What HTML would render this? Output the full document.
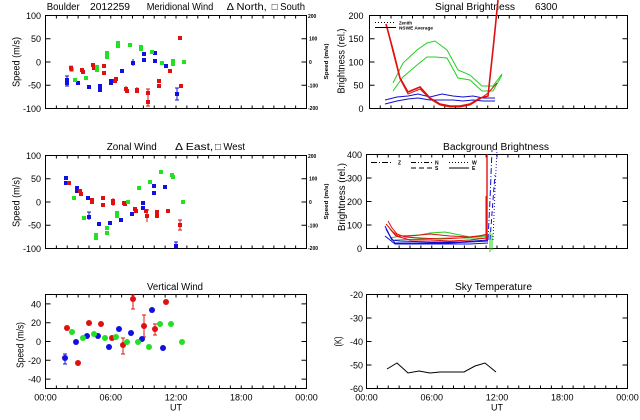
<!DOCTYPE html>
<html><head><meta charset="utf-8"><style>
html,body{margin:0;padding:0;background:#fff;width:640px;height:420px;overflow:hidden}
svg{display:block}
</style></head><body>
<svg width="640" height="420" viewBox="0 0 640 420" xmlns="http://www.w3.org/2000/svg" font-family="'Liberation Sans', 'DejaVu Sans', sans-serif">
<rect width="640" height="420" fill="#fff"/>

<!-- ================= TITLES ================= -->
<g font-size="10" fill="#000">
<text x="46.7" y="10" textLength="33" lengthAdjust="spacingAndGlyphs">Boulder</text>
<text x="90" y="10" textLength="40" lengthAdjust="spacingAndGlyphs">2012259</text>
<text x="146.7" y="10" textLength="66.6" lengthAdjust="spacingAndGlyphs">Meridional Wind</text>
<text x="226.7" y="10" textLength="40" lengthAdjust="spacingAndGlyphs">Δ North,</text>
<text x="271.7" y="10" textLength="33.3" lengthAdjust="spacingAndGlyphs">□ South</text>

<text x="435" y="10" textLength="80" lengthAdjust="spacingAndGlyphs">Signal Brightness</text>
<text x="535" y="10" textLength="22.3" lengthAdjust="spacingAndGlyphs">6300</text>

<text x="106.7" y="150" textLength="50" lengthAdjust="spacingAndGlyphs">Zonal Wind</text>
<text x="175" y="150" textLength="38.3" lengthAdjust="spacingAndGlyphs">Δ East,</text>
<text x="215" y="150" textLength="30" lengthAdjust="spacingAndGlyphs">□ West</text>

<text x="443" y="150" textLength="106" lengthAdjust="spacingAndGlyphs">Background Brightness</text>
<text x="147" y="290" textLength="56" lengthAdjust="spacingAndGlyphs">Vertical Wind</text>
<text x="455" y="290" textLength="77" lengthAdjust="spacingAndGlyphs">Sky Temperature</text>
</g>

<!-- ================= AXES BOXES ================= -->
<g fill="none" stroke="#000" stroke-width="1">
<rect x="45.5" y="15.5" width="261" height="93"/>
<rect x="369.5" y="15.5" width="258" height="93"/>
<rect x="45.5" y="155.5" width="261" height="93"/>
<rect x="366.5" y="154.5" width="261" height="94"/>
<rect x="45.5" y="294.5" width="261" height="94"/>
<rect x="366.5" y="294.5" width="261" height="94"/>
</g>

<!-- X ticks (hourly) via dashes -->
<g stroke="#000" stroke-width="3" fill="none">
<line x1="45" y1="17" x2="307.5" y2="17" stroke-dasharray="1 9.875"/>
<line x1="45" y1="107" x2="307.5" y2="107" stroke-dasharray="1 9.875"/>
<line x1="45" y1="157" x2="307.5" y2="157" stroke-dasharray="1 9.875"/>
<line x1="45" y1="247" x2="307.5" y2="247" stroke-dasharray="1 9.875"/>
<line x1="45" y1="296" x2="307.5" y2="296" stroke-dasharray="1 9.875"/>
<line x1="45" y1="387" x2="307.5" y2="387" stroke-dasharray="1 9.875"/>

<line x1="369" y1="17" x2="628.5" y2="17" stroke-dasharray="1 9.75"/>
<line x1="369" y1="107" x2="628.5" y2="107" stroke-dasharray="1 9.75"/>
<line x1="366" y1="156" x2="628.5" y2="156" stroke-dasharray="1 9.875"/>
<line x1="366" y1="247" x2="628.5" y2="247" stroke-dasharray="1 9.875"/>
<line x1="366" y1="296" x2="628.5" y2="296" stroke-dasharray="1 9.875"/>
<line x1="366" y1="387" x2="628.5" y2="387" stroke-dasharray="1 9.875"/>
</g>

<!-- Y ticks -->
<g stroke="#000" stroke-width="1" fill="none">
<path d="M45.5 38.75h5M45.5 62h5M45.5 85.25h5M306.5 38.75h-5M306.5 62h-5M306.5 85.25h-5"/>
<path d="M45.5 178.75h5M45.5 202h5M45.5 225.25h5M306.5 178.75h-5M306.5 202h-5M306.5 225.25h-5"/>
<path d="M45.5 303.9h5M45.5 322.7h5M45.5 341.5h5M45.5 360.3h5M45.5 379.1h5M306.5 303.9h-5M306.5 322.7h-5M306.5 341.5h-5M306.5 360.3h-5M306.5 379.1h-5"/>
<path d="M369.5 38.75h5M369.5 62h5M369.5 85.25h5M627.5 38.75h-5M627.5 62h-5M627.5 85.25h-5"/>
<path d="M366.5 178h5M366.5 201.5h5M366.5 225h5M627.5 178h-5M627.5 201.5h-5M627.5 225h-5"/>
<path d="M366.5 318h5M366.5 341.5h5M366.5 365h5M627.5 318h-5M627.5 341.5h-5M627.5 365h-5"/>
</g>

<!-- ================= Y LABELS ================= -->
<g font-size="9" fill="#000" text-anchor="end">
<text x="41" y="19">100</text><text x="41" y="42.2">50</text><text x="41" y="65.5">0</text><text x="41" y="88.7">-50</text><text x="41" y="112">-100</text>
<text x="41" y="159">100</text><text x="41" y="182.2">50</text><text x="41" y="205.5">0</text><text x="41" y="228.7">-50</text><text x="41" y="252">-100</text>
<text x="41" y="307.4">40</text><text x="41" y="326.2">20</text><text x="41" y="345">0</text><text x="41" y="363.8">-20</text><text x="41" y="382.6">-40</text>

<text x="363.5" y="19">200</text><text x="363.5" y="42.2">150</text><text x="363.5" y="65.5">100</text><text x="363.5" y="88.7">50</text><text x="363.5" y="112">0</text>
<text x="362" y="158">400</text><text x="362" y="181.5">300</text><text x="362" y="205">200</text><text x="362" y="228.5">100</text><text x="362" y="252">0</text>
<text x="363" y="298">-20</text><text x="363" y="321.5">-30</text><text x="363" y="345">-40</text><text x="363" y="368.5">-50</text><text x="363" y="392">-60</text>
</g>

<!-- tiny right-axis labels on wind panels -->
<g font-size="5" fill="#000" font-weight="bold">
<text x="308" y="18">200</text><text x="309" y="40.5">100</text><text x="309" y="64">0</text><text x="308" y="87.5">-100</text><text x="308" y="110">-200</text>
<text x="308" y="158">200</text><text x="309" y="180.5">100</text><text x="309" y="204">0</text><text x="308" y="227.5">-100</text><text x="308" y="250">-200</text>
<text transform="translate(328,61.5) rotate(-90)" text-anchor="middle" textLength="36" lengthAdjust="spacingAndGlyphs">Speed (m/s)</text>
<text transform="translate(328,201.5) rotate(-90)" text-anchor="middle" textLength="36" lengthAdjust="spacingAndGlyphs">Speed (m/s)</text>
</g>

<!-- Y axis titles -->
<g font-size="10" fill="#000" text-anchor="middle">
<text transform="translate(19.5,62) rotate(-90)" textLength="50" lengthAdjust="spacingAndGlyphs">Speed (m/s)</text>
<text transform="translate(19.5,202) rotate(-90)" textLength="50" lengthAdjust="spacingAndGlyphs">Speed (m/s)</text>
<text transform="translate(23.5,345) rotate(-90)" textLength="46" lengthAdjust="spacingAndGlyphs">Speed (m/s)</text>
<text transform="translate(344.5,61) rotate(-90)" textLength="65" lengthAdjust="spacingAndGlyphs">Brightness (rel.)</text>
<text transform="translate(345,197) rotate(-90)" textLength="68" lengthAdjust="spacingAndGlyphs">Brightness (rel.)</text>
<text transform="translate(341.5,341.5) rotate(-90)" textLength="10" lengthAdjust="spacingAndGlyphs">(K)</text>
</g>

<!-- X labels -->
<g font-size="9" fill="#000" text-anchor="middle">
<text x="45.5" y="400.5">00:00</text><text x="110.75" y="400.5">06:00</text><text x="176" y="400.5">12:00</text><text x="241.25" y="400.5">18:00</text><text x="306.5" y="400.5">00:00</text>
<text x="176" y="410.5">UT</text>
<text x="366.5" y="400.5">00:00</text><text x="431.75" y="400.5">06:00</text><text x="497" y="400.5">12:00</text><text x="562.25" y="400.5">18:00</text><text x="627.5" y="400.5">00:00</text>
<text x="497" y="410.5">UT</text>
</g>

<!-- ================= MERIDIONAL WIND ================= -->
<g stroke-width="1" fill="none">
<path stroke="#e01010" d="M148 89v8M146 89h4M148 97v9M146 106h4M137 87v6M126 86v6"/>
<path stroke="#1010e0" d="M67 76v10M65 76h4M65 86h4M177 88v12M175 88h4M175 100h4M133 59v7"/>
</g>
<g fill="#e01010">
<rect x="69" y="65.7" width="4" height="4"/><rect x="69.5" y="67.5" width="4" height="4"/>
<rect x="80" y="68" width="4" height="4"/><rect x="81" y="70" width="4" height="4"/>
<rect x="91" y="63" width="4" height="4"/><rect x="92" y="66" width="4" height="4"/>
<rect x="102" y="64" width="4" height="4"/><rect x="102" y="71" width="4" height="4"/>
<rect x="113" y="79" width="4" height="4"/><rect x="114" y="77" width="4" height="4"/>
<rect x="124" y="87" width="4" height="4"/><rect x="125" y="89" width="4" height="4"/>
<rect x="135" y="88" width="4" height="4"/><rect x="135" y="89" width="4" height="4"/>
<rect x="146" y="91" width="4" height="4"/><rect x="146" y="100" width="4" height="4"/>
<rect x="157" y="79" width="4" height="4"/><rect x="157" y="84" width="4" height="4"/>
<rect x="168" y="69" width="4" height="4"/>
<rect x="178" y="36" width="4" height="4"/><rect x="179" y="84" width="4" height="4"/>
</g>
<g fill="#1010e0">
<rect x="65" y="78" width="4" height="4"/><rect x="65" y="81" width="4" height="4"/>
<rect x="76" y="81" width="4" height="4"/>
<rect x="87" y="85" width="4" height="4"/>
<rect x="98" y="84" width="4" height="4"/><rect x="98" y="88" width="4" height="4"/>
<rect x="109" y="79" width="4" height="4"/><rect x="109" y="81" width="4" height="4"/>
<rect x="120" y="69" width="4" height="4"/>
<rect x="131" y="61" width="4" height="4"/>
<rect x="142" y="52" width="4" height="4"/><rect x="142" y="58" width="4" height="4"/>
<rect x="153" y="51" width="4" height="4"/><rect x="153" y="59" width="4" height="4"/>
<rect x="164" y="64" width="4" height="4"/>
<rect x="175" y="92" width="4" height="4"/>
</g>
<g fill="#22e022">
<rect x="73" y="78" width="4" height="4"/>
<rect x="84" y="76" width="4" height="4"/>
<rect x="95" y="65" width="4" height="4"/><rect x="95" y="68" width="4" height="4"/>
<rect x="105" y="51" width="4" height="4"/><rect x="105" y="55" width="4" height="4"/>
<rect x="116" y="41" width="4" height="4"/><rect x="116" y="44" width="4" height="4"/>
<rect x="128" y="43" width="4" height="4"/>
<rect x="139" y="45" width="4" height="4"/><rect x="139" y="47" width="4" height="4"/>
<rect x="150" y="50" width="4" height="4"/>
<rect x="160" y="61" width="4" height="4"/>
<rect x="171" y="59" width="4" height="4"/><rect x="171" y="62" width="4" height="4"/>
<rect x="182" y="60" width="4" height="4"/>
</g>

<!-- ================= ZONAL WIND ================= -->
<g stroke-width="1" fill="none">
<path stroke="#1010e0" d="M89 212v8M87 212h4M176 242v7M174 242h4"/>
<path stroke="#e01010" d="M180 220v10M178 220h4M178 230h4M147 210v12M145 210h4M113 198v8"/>
</g>
<g fill="#1010e0">
<rect x="64" y="176" width="4" height="4"/><rect x="64" y="181" width="4" height="4"/>
<rect x="75" y="186" width="4" height="4"/><rect x="75" y="189" width="4" height="4"/>
<rect x="86" y="196" width="4" height="4"/>
<rect x="87" y="215" width="4" height="4"/>
<rect x="97" y="222" width="4" height="4"/>
<rect x="108" y="221" width="4" height="4"/>
<rect x="119" y="218" width="4" height="4"/>
<rect x="130" y="212" width="4" height="4"/>
<rect x="141" y="201" width="4" height="4"/><rect x="141" y="206" width="4" height="4"/>
<rect x="152" y="184" width="4" height="4"/><rect x="152" y="191" width="4" height="4"/>
<rect x="163" y="185" width="4" height="4"/>
<rect x="174" y="244" width="4" height="4"/>
</g>
<g fill="#e01010">
<rect x="67" y="181" width="4" height="4"/>
<rect x="78" y="189" width="4" height="4"/><rect x="79" y="192" width="4" height="4"/>
<rect x="90" y="198" width="4" height="4"/><rect x="90" y="200" width="4" height="4"/>
<rect x="101" y="196" width="4" height="4"/><rect x="101" y="203" width="4" height="4"/>
<rect x="111" y="199" width="4" height="4"/><rect x="111" y="201" width="4" height="4"/>
<rect x="122" y="201" width="4" height="4"/><rect x="123" y="202" width="4" height="4"/>
<rect x="133" y="207" width="4" height="4"/><rect x="134" y="209" width="4" height="4"/>
<rect x="144" y="209" width="4" height="4"/><rect x="145" y="214" width="4" height="4"/>
<rect x="155" y="210" width="4" height="4"/><rect x="155" y="214" width="4" height="4"/>
<rect x="166" y="209" width="4" height="4"/>
<rect x="178" y="223" width="4" height="4"/>
</g>
<g fill="#22e022">
<rect x="72" y="196" width="4" height="4"/>
<rect x="82" y="216" width="4" height="4"/>
<rect x="94" y="233" width="4" height="4"/><rect x="94" y="236" width="4" height="4"/>
<rect x="105" y="226" width="4" height="4"/><rect x="105" y="231" width="4" height="4"/>
<rect x="115" y="211" width="4" height="4"/><rect x="115" y="214" width="4" height="4"/>
<rect x="126" y="200" width="4" height="4"/>
<rect x="137" y="186" width="4" height="4"/>
<rect x="148" y="180" width="4" height="4"/>
<rect x="159" y="170" width="4" height="4"/>
<rect x="170" y="173" width="4" height="4"/><rect x="171" y="175" width="4" height="4"/>
<rect x="181" y="200" width="4" height="4"/>
</g>

<!-- ================= VERTICAL WIND ================= -->
<g stroke-width="1" fill="none">
<path stroke="#1010e0" d="M65 354v10M63 354h4M63 364h4"/>
<path stroke="#e01010" d="M123 338v16M121 338h4M121 354h4M133 295v14M131 295h4M131 309h4M144 315v22M142 315h4M142 337h4M155 324v11M153 324h4M153 335h4"/>
</g>
<g fill="#1010e0">
<circle cx="65" cy="358" r="3"/><circle cx="76" cy="342" r="3"/><circle cx="87" cy="336" r="3"/>
<circle cx="98" cy="336" r="3"/><circle cx="109" cy="347" r="3"/><circle cx="119" cy="329" r="3"/>
<circle cx="131" cy="333" r="3"/><circle cx="142" cy="339" r="3"/><circle cx="152" cy="310" r="3"/>
<circle cx="163" cy="348" r="3"/>
</g>
<g fill="#e01010">
<circle cx="67" cy="328" r="3"/><circle cx="78" cy="363" r="3"/><circle cx="89" cy="323" r="3"/>
<circle cx="101" cy="324" r="3"/><circle cx="112" cy="338" r="3"/><circle cx="123" cy="345" r="3"/>
<circle cx="133" cy="299" r="3"/><circle cx="144" cy="326" r="3"/><circle cx="155" cy="329" r="3"/>
<circle cx="166" cy="302" r="3"/>
</g>
<g fill="#22e022">
<circle cx="72" cy="332" r="3"/><circle cx="83" cy="338" r="3"/><circle cx="94" cy="334" r="3"/>
<circle cx="105" cy="338" r="3"/><circle cx="116" cy="337" r="3"/><circle cx="127" cy="342" r="3"/>
<circle cx="138" cy="342" r="3"/><circle cx="149" cy="347" r="3"/><circle cx="160" cy="324" r="3"/>
<circle cx="171" cy="324" r="3"/><circle cx="182" cy="342" r="3"/>
</g>

<!-- ================= SIGNAL BRIGHTNESS ================= -->
<g fill="none" stroke-width="1">
<polyline stroke="#1010d0" points="385,100 397,97 408,96 418,94 430,97 442,94 453,96 463,97 473,96 483,98 495,98"/>
<polyline stroke="#1010d0" points="385,104 397,101 408,99 418,98 430,100 442,100 453,100 463,101 473,100 483,101 495,101"/>
<polyline stroke="#22d022" points="393,83 403,63 417,50 427,43 435,41 447,50 458,70 470,75 482,86 493,86 502,74"/>
<polyline stroke="#22d022" points="393,91 403,77 417,65 427,57 435,57 447,58 458,78 470,80 482,91 493,91 502,75"/>
<polyline stroke="#e01010" points="387,27 393,52 400,79 408,94 420,89 430,99 440,105 450,107 460,107 470,105 480,99 488,93 497,83"/>
<polyline stroke="#e01010" stroke-width="1.6" points="386,24 393,50 400,78 408,92 420,87 430,98 440,104 450,106 460,106 470,104 480,98 488,96 494,40 497,10 498,0"/>
</g>
<!-- legend -->
<g stroke="#000" stroke-width="1">
<line x1="375" y1="22.5" x2="396" y2="22.5" stroke-dasharray="1 2"/>
<line x1="375" y1="27.5" x2="396" y2="27.5"/>
</g>
<g font-size="4.5" fill="#000" font-weight="bold">
<text x="399" y="24.5" textLength="13" lengthAdjust="spacingAndGlyphs">Zenith</text>
<text x="399" y="29.5" textLength="34" lengthAdjust="spacingAndGlyphs">NSWE Average</text>
</g>

<!-- ================= BACKGROUND BRIGHTNESS ================= -->
<g fill="none" stroke-width="1">
<polyline stroke="#22d022" points="390,238 400,236 420,235 430,233 445,232 455,234 470,237 488,236"/>
<polyline stroke="#22d022" points="395,240 420,239 450,238 488,238"/>
<path stroke="#22d022" d="M490 232v20M492 234v16"/>
<polyline stroke="#e01010" points="388,221 392,228 397,234 405,237 420,238 440,239 460,238 480,236 487,234"/>
<polyline stroke="#e01010" points="386,224 392,231 398,236 410,236 430,234 450,236 470,237 485,235"/>
<polyline stroke="#e01010" points="390,229 396,236 410,240 430,240 450,241 470,240 486,238"/>
<polyline stroke="#1010d0" points="385,226 390,236 395,243 420,243 450,243 470,242 488,241"/>
<polyline stroke="#1010d0" points="386,229 392,240 400,241 430,242 460,242 488,240"/>
<polyline stroke="#1010d0" points="385,236 395,244 430,244 470,244 488,243"/>
<polyline stroke="#1010d0" stroke-dasharray="6 2 1 2" points="488,240 490,200 492,150"/>
<polyline stroke="#1010d0" stroke-dasharray="5 3" points="490,240 493,200 495,175"/>
<polyline stroke="#1010d0" stroke-dasharray="1 2" points="493,240 495,190 497,150"/>
<path stroke="#e01010" stroke-width="1.4" d="M487 240V154"/>
<path stroke="#e01010" stroke-width="2" d="M486.5 240V196"/>
</g>
<!-- legend -->
<g stroke="#000" stroke-width="1">
<line x1="371" y1="162.5" x2="393" y2="162.5" stroke-dasharray="6 2 1 2"/>
<line x1="411" y1="162.5" x2="432" y2="162.5" stroke-dasharray="5 2 1 2 1 2"/>
<line x1="411" y1="168" x2="432" y2="168" stroke-dasharray="5 3"/>
<line x1="449" y1="162.5" x2="469" y2="162.5" stroke-dasharray="1 2"/>
<line x1="449" y1="168" x2="469" y2="168"/>
</g>
<g font-size="5" fill="#000" font-weight="bold">
<text x="398" y="164.5">Z</text>
<text x="435" y="164.5">N</text>
<text x="435" y="170">S</text>
<text x="472" y="164.5">W</text>
<text x="472" y="170">E</text>
</g>

<!-- ================= SKY TEMPERATURE ================= -->
<polyline fill="none" stroke="#000" stroke-width="1" points="387,369 397,363 408,373 419,371 430,373 440,372 451,372 464,372 475,366 485,363 496,372"/>

</svg>
</body></html>
